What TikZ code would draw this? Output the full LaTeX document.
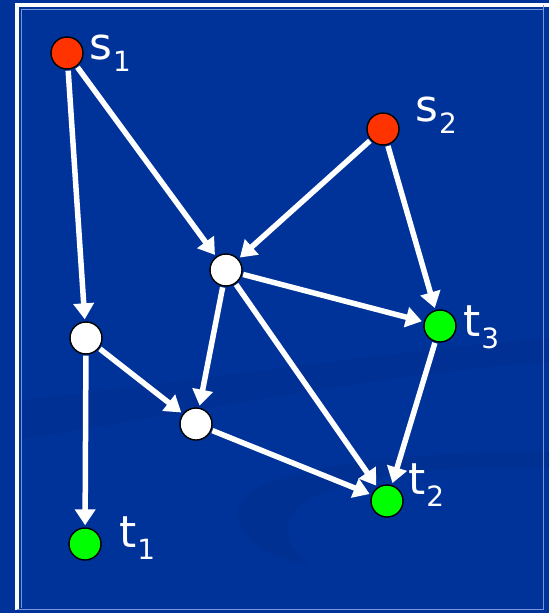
\documentclass[tikz,border=0pt]{standalone}
\usepackage{fontspec}
\setmainfont{DejaVu Sans}
\usetikzlibrary{arrows.meta}
\definecolor{slideblue}{HTML}{003399}
\definecolor{slidedark}{HTML}{002C86}
\definecolor{rimblue}{HTML}{7A96D8}
\definecolor{srcred}{HTML}{FF3300}
\definecolor{sinkgreen}{HTML}{00FF00}
\newcommand\lowidx[1]{\kern1bp\raisebox{-12bp}{\fontsize{28}{30}\selectfont #1}}

\begin{document}
\begin{tikzpicture}[x=1bp,y=-1bp]
    \tikzstyle{vertex}=[circle,draw=black,line width=1.4bp,minimum size=32bp,inner sep=0pt]
    \tikzstyle{source}=[vertex,fill=srcred]
    \tikzstyle{sink}=[vertex,fill=sinkgreen]
    \tikzstyle{hub}=[vertex,fill=white]
    \tikzstyle{edge}=[-{Triangle[length=16bp,width=20bp]},line width=5.5bp,white,shorten >=2bp,shorten <=1bp]
    \tikzstyle{tag}=[text=white,inner sep=0pt,anchor=base west,font=\fontsize{44}{48}\selectfont]
    % slide background
    \fill[slideblue] (0,0) rectangle (549,613);
    \fill[slidedark,opacity=0.3] (20,400) .. controls (200,380) and (400,350) .. (549,338) -- (549,362) .. controls (400,372) and (200,410) .. (20,440) -- cycle;
    \fill[slidedark,opacity=0.35] (549,452) .. controls (400,450) and (240,470) .. (238,510) .. controls (236,545) and (280,560) .. (310,565) .. controls (285,545) and (270,510) .. (330,490) .. controls (400,468) and (480,466) .. (549,468) -- cycle;
    % frame
    \draw[white,line width=4.5bp] (17,610) -- (17,5) -- (549,5);
    \draw[rimblue,line width=1bp] (21.5,608) -- (21.5,9.5) -- (544,9.5);
    \draw[rimblue,line width=1.2bp] (17,609.5) -- (543.5,609.5) -- (543.5,5);
    % vertices
    \node[source] (s1) at (67,53) {};
    \node[source] (s2) at (383,129) {};
    \node[hub] (a) at (226,270) {};
    \node[hub] (b) at (86,338) {};
    \node[hub] (c) at (196,424) {};
    \node[sink] (t3) at (440,326) {};
    \node[sink] (t2) at (387,501) {};
    \node[sink] (t1) at (85,544) {};
    % labels
    \node[tag] (ls1) at (89,60) {s\lowidx{1}};
    \node[tag] (ls2) at (415,122) {s\lowidx{2}};
    \node[tag] (lt1) at (119,547) {t\lowidx{1}};
    \node[tag] (lt3) at (463,336) {t\lowidx{3}};
    \node[tag] (lt2) at (408,494) {t\lowidx{2}};
    % arcs
    \draw[edge] (s1) -- (b);
    \draw[edge] (s1) -- (a);
    \draw[edge] (s2) -- (a);
    \draw[edge] (s2) -- (t3);
    \draw[edge] (a) -- (t3);
    \draw[edge] (a) -- (c);
    \draw[edge] (a) -- (t2);
    \draw[edge] (b) -- (c);
    \draw[edge] (b) -- (t1);
    \draw[edge] (c) -- (t2);
    \draw[edge] (t3) -- (t2);
\end{tikzpicture}
\end{document}
